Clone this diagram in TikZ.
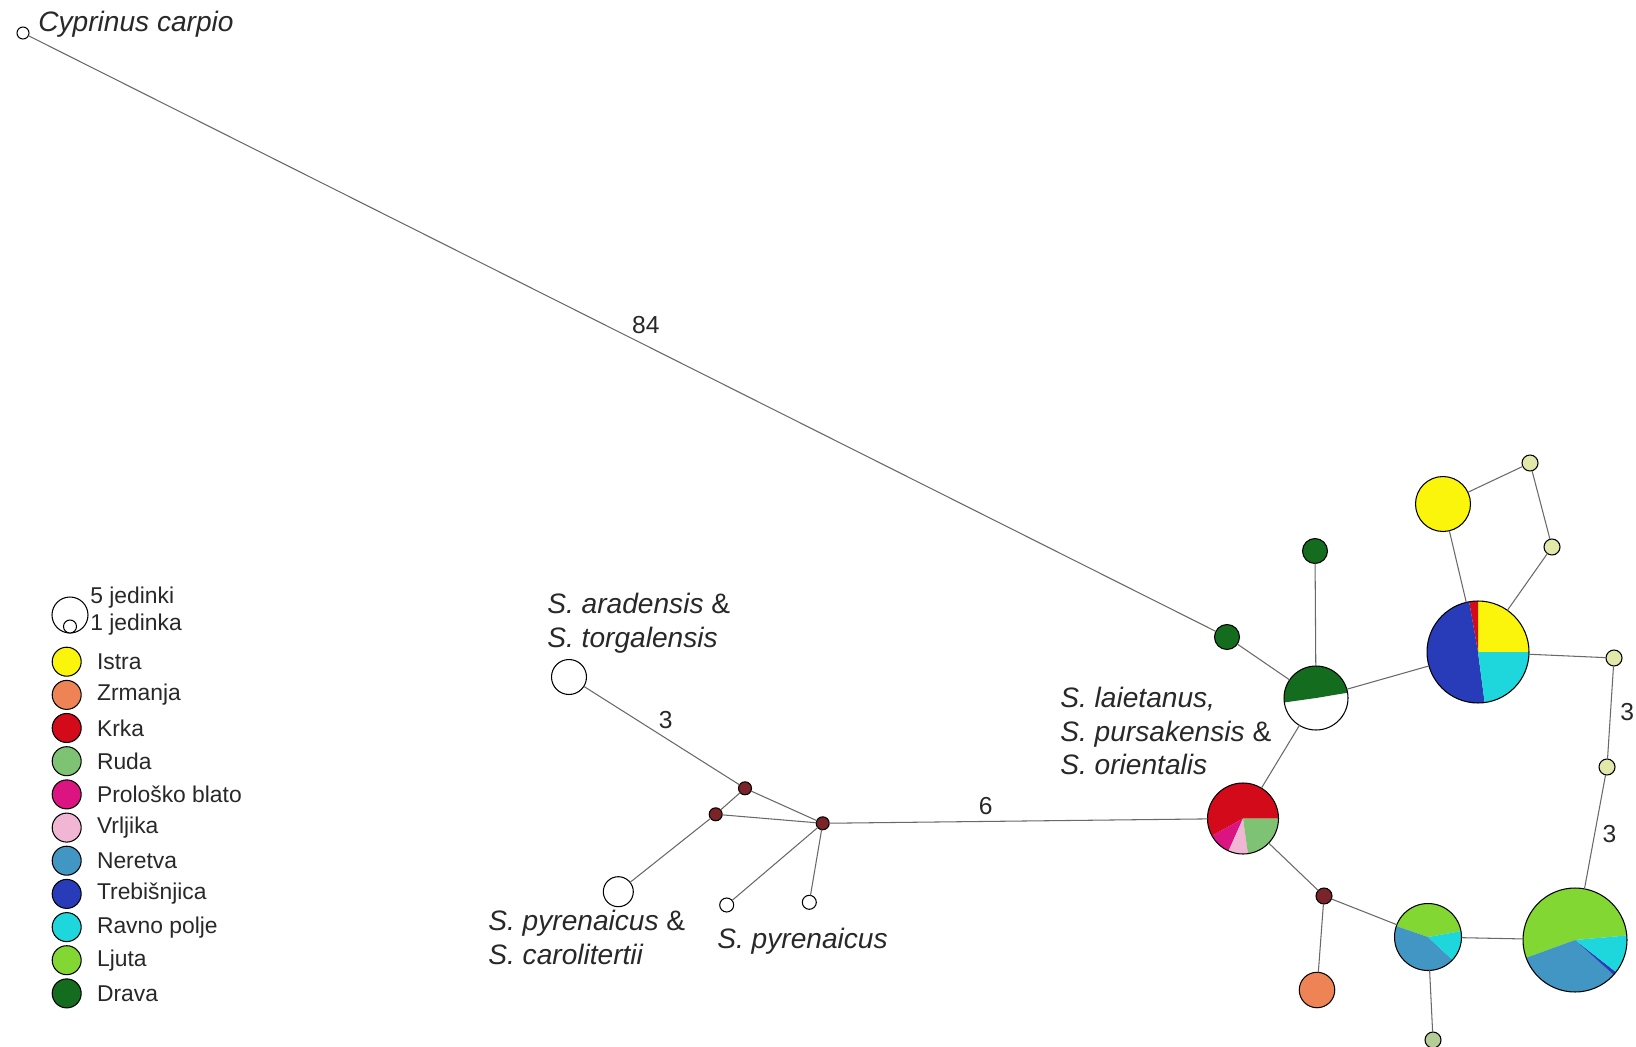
\documentclass[tikz,border=0pt]{standalone}
\usepackage{fontspec}
\setmainfont{Liberation Sans}
\definecolor{istra}{RGB}{250,245,10}
\definecolor{zrmanja}{RGB}{238,132,86}
\definecolor{krka}{RGB}{210,10,25}
\definecolor{ruda}{RGB}{125,195,115}
\definecolor{prolosko}{RGB}{220,20,130}
\definecolor{vrljika}{RGB}{240,182,212}
\definecolor{neretva}{RGB}{65,150,195}
\definecolor{trebis}{RGB}{40,60,185}
\definecolor{ravno}{RGB}{30,215,220}
\definecolor{ljuta}{RGB}{130,215,50}
\definecolor{drava}{RGB}{20,108,30}
\definecolor{mvred}{RGB}{122,35,40}
\definecolor{pale}{RGB}{226,232,170}
\definecolor{palegreen}{RGB}{180,205,150}
\definecolor{linegray}{RGB}{105,105,105}
\definecolor{txt}{RGB}{40,40,40}
\newcommand{\pieslice}[3]{\fill[#3] (path picture bounding box.center) -- ++(#1:60) arc[start angle=#1,end angle=#2,radius=60] -- cycle;}
\tikzset{
  hap/.style={circle, draw=black, line width=0.6pt, inner sep=0pt, outer sep=0pt, fill=white},
  mv/.style={hap, fill=mvred, minimum size=0.26cm},
  tiny/.style={hap, fill=pale, minimum size=0.32cm},
  link/.style={draw=linegray, line width=0.6pt},
  sp/.style={font=\fontsize{16}{19.3}\selectfont\itshape, text=txt, inner sep=0pt, anchor=west, align=left},
  leg/.style={font=\fontsize{13}{15}\selectfont, text=txt, inner sep=0pt, anchor=west},
  legdot/.style={hap, minimum size=0.58cm},
  num/.style={font=\fontsize{14}{16}\selectfont, text=txt}
}
\begin{document}
\begin{tikzpicture}[x=0.02cm, y=0.02cm]
\useasboundingbox[fill=white] (0,0) rectangle (1636,-1047);

\node[hap, minimum size=0.24cm] (cyp) at (23,-33) {};
\node[hap, fill=drava, minimum size=0.5cm] (drA) at (1227,-637) {};
\node[hap, fill=drava, minimum size=0.5cm] (drB) at (1315,-551) {};
\node[hap, minimum size=1.28cm, path picture={\pieslice{9.5}{188}{drava}}] (gw) at (1316,-698) {};
\node[hap, minimum size=2.04cm, path picture={\pieslice{0}{90}{istra}\pieslice{90}{100}{krka}\pieslice{100}{277.5}{trebis}\pieslice{277.5}{360}{ravno}}] (bigp) at (1478,-652) {};
\node[hap, fill=istra, minimum size=1.1cm] (ist) at (1443,-504) {};
\node[tiny] (pA) at (1530,-463) {};
\node[tiny] (pB) at (1552,-547) {};
\node[tiny] (pC) at (1614,-658) {};
\node[tiny] (pD) at (1607,-767) {};
\node[hap, minimum size=2.08cm, path picture={\pieslice{5}{200}{ljuta}\pieslice{200}{318}{neretva}\pieslice{318}{322}{trebis}\pieslice{322}{365}{ravno}}] (ljB) at (1575,-940) {};
\node[hap, minimum size=1.34cm, path picture={\pieslice{10}{161}{ljuta}\pieslice{161}{317}{neretva}\pieslice{317}{370}{ravno}}] (ljA) at (1428,-937) {};
\node[tiny, fill=palegreen] (pE) at (1433,-1040) {};
\node[mv, minimum size=0.32cm] (mvC) at (1324,-896) {};
\node[hap, fill=zrmanja, minimum size=0.71cm] (zrm) at (1317,-990) {};
\node[hap, minimum size=1.42cm, path picture={\pieslice{0}{209}{krka}\pieslice{209}{246}{prolosko}\pieslice{246}{278}{vrljika}\pieslice{278}{360}{ruda}}] (krp) at (1243,-818.5) {};
\node[mv] (mvA) at (822.7,-823.3) {};
\node[mv] (mvB) at (745,-788.3) {};
\node[mv] (mvD) at (715.7,-814.3) {};
\node[hap, minimum size=0.7cm] (arad) at (569,-677) {};
\node[hap, minimum size=0.6cm] (pyca) at (618.3,-891.7) {};
\node[hap, minimum size=0.28cm] (pyA) at (726.7,-905) {};
\node[hap, minimum size=0.28cm] (pyB) at (809.3,-902.3) {};

\draw[link] (cyp) -- node[num, pos=0.52, above=3pt] (n84) {84} (drA);
\draw[link] (drA) -- (gw);
\draw[link] (drB) -- (gw);
\draw[link] (gw) -- (bigp);
\draw[link] (gw) -- (krp);
\draw[link] (bigp) -- (ist);
\draw[link] (ist) -- (pA);
\draw[link] (pA) -- (pB);
\draw[link] (pB) -- (bigp);
\draw[link] (bigp) -- (pC);
\draw[link] (pC) -- node[num, pos=0.5, right=2pt] (n3a) {3} (pD);
\draw[link] (pD) -- node[num, pos=0.52, right=1pt] (n3b) {3} (ljB);
\draw[link] (ljB) -- (ljA);
\draw[link] (ljA) -- (pE);
\draw[link] (ljA) -- (mvC);
\draw[link] (mvC) -- (zrm);
\draw[link] (mvC) -- (krp);
\draw[link] (krp) -- node[num, pos=0.586, above] (n6) {6} (mvA);
\draw[link] (mvA) -- (mvB);
\draw[link] (mvA) -- (mvD);
\draw[link] (mvA) -- (pyA);
\draw[link] (mvA) -- (pyB);
\draw[link] (mvB) -- node[num, pos=0.474, above=2pt] (n3c) {3} (arad);
\draw[link] (mvB) -- (mvD);
\draw[link] (mvD) -- (pyca);

\node[sp] (tCyp) at (38,-24) {Cyprinus carpio};
\node[sp] (tArad) at (547,-623) {S. aradensis {\upshape\&}\\S. torgalensis};
\node[sp] (tPyca) at (488,-937) {S. pyrenaicus {\upshape\&}\\S. carolitertii};
\node[sp] (tPyr) at (717,-941) {S. pyrenaicus};
\node[sp] (tLai) at (1060,-731) {S. laietanus,\\S. pursakensis {\upshape\&}\\S. orientalis};

\node[hap, minimum size=0.72cm] (lBig) at (70,-615) {};
\node[hap, minimum size=0.26cm] (lSmall) at (70,-626.5) {};
\node[leg] (t5) at (90,-598) {5 jedinki};
\node[leg] (t1) at (90,-625) {1 jedinka};
\node[legdot, fill=istra] (l1) at (66.7,-661.7) {};
\node[legdot, fill=zrmanja] (l2) at (66.7,-694.9) {};
\node[legdot, fill=krka] (l3) at (66.7,-728.0) {};
\node[legdot, fill=ruda] (l4) at (66.7,-761.2) {};
\node[legdot, fill=prolosko] (l5) at (66.7,-794.4) {};
\node[legdot, fill=vrljika] (l6) at (66.7,-827.6) {};
\node[legdot, fill=neretva] (l7) at (66.7,-860.7) {};
\node[legdot, fill=trebis] (l8) at (66.7,-893.9) {};
\node[legdot, fill=ravno] (l9) at (66.7,-927.1) {};
\node[legdot, fill=ljuta] (l10) at (66.7,-960.2) {};
\node[legdot, fill=drava] (l11) at (66.7,-993.4) {};
\node[leg] (tl1) at (96.7,-661.7) {Istra};
\node[leg] (tl2) at (96.7,-694.9) {Zrmanja};
\node[leg] (tl3) at (96.7,-728.0) {Krka};
\node[leg] (tl4) at (96.7,-761.2) {Ruda};
\node[leg] (tl5) at (96.7,-794.4) {Prološko blato};
\node[leg] (tl6) at (96.7,-827.6) {Vrljika};
\node[leg] (tl7) at (96.7,-860.7) {Neretva};
\node[leg] (tl8) at (96.7,-893.9) {Trebišnjica};
\node[leg] (tl9) at (96.7,-927.1) {Ravno polje};
\node[leg] (tl10) at (96.7,-960.2) {Ljuta};
\node[leg] (tl11) at (96.7,-993.4) {Drava};
\end{tikzpicture}
\end{document}
